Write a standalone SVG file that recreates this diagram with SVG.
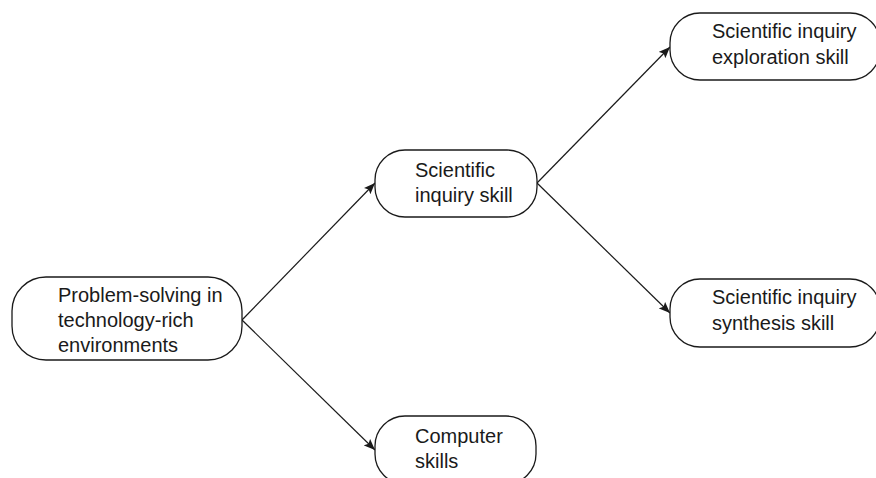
<svg xmlns="http://www.w3.org/2000/svg" width="876" height="478" viewBox="0 0 876 478">
<defs>
<style>
.node rect{fill:#fff;stroke:#1a1a1a;stroke-width:1.3}
.node text{font-family:"Liberation Sans",Arial,sans-serif;font-size:20px;fill:#1a1a1a}
.conn line{stroke:#1a1a1a;stroke-width:1.2;marker-end:url(#arr)}
</style>
<marker id="arr" viewBox="0 0 10 8" refX="10" refY="4" markerWidth="12" markerHeight="9" markerUnits="userSpaceOnUse" orient="auto">
<path d="M0,0 L10,4 L0,8 L2,4 Z" fill="#1a1a1a"/>
</marker>
</defs>
<rect width="876" height="478" fill="#fff"/>
<g id="connectors" class="conn">
<line x1="242" y1="320" x2="375" y2="183"/>
<line x1="242" y1="320" x2="375" y2="450"/>
<line x1="537" y1="183" x2="670" y2="47"/>
<line x1="537" y1="183" x2="670" y2="313"/>
</g>
<g id="n1" class="node">
<rect x="12" y="277" width="230" height="83" rx="34"/>
<text x="58" y="302">Problem-solving in</text>
<text x="58" y="327">technology-rich</text>
<text x="58" y="352">environments</text>
</g>
<g id="n2" class="node">
<rect x="375" y="150" width="162" height="67" rx="30"/>
<text x="415" y="177">Scientific</text>
<text x="415" y="202">inquiry skill</text>
</g>
<g id="n3" class="node">
<rect x="670" y="13" width="210" height="67" rx="30"/>
<text x="712" y="38">Scientific inquiry</text>
<text x="712" y="64">exploration skill</text>
</g>
<g id="n4" class="node">
<rect x="670" y="279" width="210" height="68" rx="30"/>
<text x="712" y="304">Scientific inquiry</text>
<text x="712" y="330">synthesis skill</text>
</g>
<g id="n5" class="node">
<rect x="375" y="416" width="161" height="68" rx="30"/>
<text x="415" y="443">Computer</text>
<text x="415" y="468">skills</text>
</g>
</svg>
